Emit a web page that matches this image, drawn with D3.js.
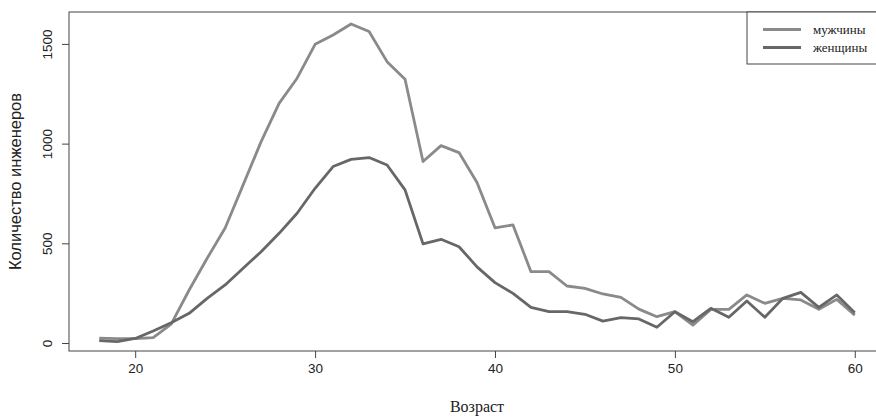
<!DOCTYPE html>
<html>
<head>
<meta charset="utf-8">
<script src="https://cdn.jsdelivr.net/npm/d3@7"></script>
<style>
  body { margin: 0; background: #fff; }
  svg { display: block; }
</style>
</head>
<body>
<div id="chart"></div>
<script>
let w = 876;
let h = 417;

// ages 18..60
let ages = d3.range(18, 61);
let men = [25, 22, 22, 27, 95, 266, 425, 577, 793, 1010, 1202, 1328, 1498, 1545, 1600,
  1562, 1411, 1323, 910, 990, 955, 805, 578, 592, 358, 358, 286, 274, 246, 229, 170,
  132, 157, 90, 169, 169, 241, 199, 224, 216, 169, 219, 140];
let women = [12, 7, 23, 60, 102, 149, 224, 291, 375, 458, 550, 651, 776, 885, 921,
  930, 893, 768, 497, 520, 483, 382, 303, 249, 179, 157, 157, 144, 110, 127, 121,
  79, 157, 107, 174, 129, 211, 129, 224, 254, 179, 241, 152];
let xTicks = [20, 30, 40, 50, 60];
let yTicks = [0, 500, 1000, 1500];
let seriesNames = ["мужчины", "женщины"];
let seriesColors = ["#8a8a8a", "#676767"];

let box = {left: 69, right: 885, top: 12, bottom: 351};

let viz = d3.select("#chart")
  .append("svg")
  .attr("width", w)
  .attr("height", h);

let xScale = d3.scaleLinear().domain([16.32, 61.68]).range([box.left, box.right]);
let yScale = d3.scaleLinear().domain([-40, 1660]).range([box.bottom, box.top]);

// lines
let line = d3.line()
  .x((d, i) => xScale(ages[i]))
  .y(d => yScale(d));

[men, women].forEach((s, i) => {
  viz.append("path")
    .datum(s)
    .attr("d", line)
    .attr("fill", "none")
    .attr("stroke", seriesColors[i])
    .attr("stroke-width", 2.8)
    .attr("stroke-linejoin", "round");
});

// box
viz.append("rect")
  .attr("x", box.left)
  .attr("y", box.top)
  .attr("width", box.right - box.left)
  .attr("height", box.bottom - box.top)
  .attr("fill", "none")
  .attr("stroke", "#444")
  .attr("stroke-width", 1);

// x axis
let xAxis = d3.axisBottom(xScale).tickValues(xTicks).tickSize(7).tickPadding(5).tickFormat(d3.format("d"));
let xg = viz.append("g").attr("transform", `translate(0,${box.bottom})`).call(xAxis);
xg.select(".domain").remove();
xg.selectAll("line").attr("stroke", "#444");
xg.selectAll("text").attr("font-family", "Liberation Sans, Arial, sans-serif").attr("font-size", 13.5).attr("fill", "#222");

// y axis
let yAxis = d3.axisLeft(yScale).tickValues(yTicks).tickSize(7).tickPadding(0).tickFormat(d3.format("d"));
let yg = viz.append("g").attr("transform", `translate(${box.left},0)`).call(yAxis);
yg.select(".domain").remove();
yg.selectAll("line").attr("stroke", "#444");
yg.selectAll("text")
  .attr("font-family", "Liberation Sans, Arial, sans-serif")
  .attr("font-size", 13.5)
  .attr("fill", "#222")
  .attr("x", null).attr("dy", null)
  .attr("text-anchor", "middle")
  .attr("transform", "translate(-22,0) rotate(-90)")
  .attr("dy", "0.35em");

// titles
viz.append("text")
  .attr("x", (box.left + box.right) / 2)
  .attr("y", 412)
  .attr("text-anchor", "middle")
  .attr("font-family", "Liberation Serif, Times New Roman, serif")
  .attr("font-size", 16)
  .attr("fill", "#222")
  .text("Возраст");

viz.append("text")
  .attr("transform", `translate(21,${(box.top + box.bottom) / 2}) rotate(-90)`)
  .attr("text-anchor", "middle")
  .attr("font-family", "Liberation Sans, Arial, sans-serif")
  .attr("font-size", 16.5)
  .attr("fill", "#222")
  .text("Количество инженеров");

// legend
let leg = viz.append("g");
leg.append("rect")
  .attr("x", 747).attr("y", box.top)
  .attr("width", 140).attr("height", 52)
  .attr("fill", "#fff")
  .attr("stroke", "#444");
seriesNames.forEach((n, i) => {
  let yy = 29.5 + i * 18;
  leg.append("line")
    .attr("x1", 763).attr("x2", 801)
    .attr("y1", yy).attr("y2", yy)
    .attr("stroke", seriesColors[i])
    .attr("stroke-width", 2.8);
  leg.append("text")
    .attr("x", 813).attr("y", yy)
    .attr("dy", "0.35em")
    .attr("font-family", "Liberation Serif, Times New Roman, serif")
    .attr("font-size", 13)
    .attr("fill", "#222")
    .text(n);
});
</script>
</body>
</html>
